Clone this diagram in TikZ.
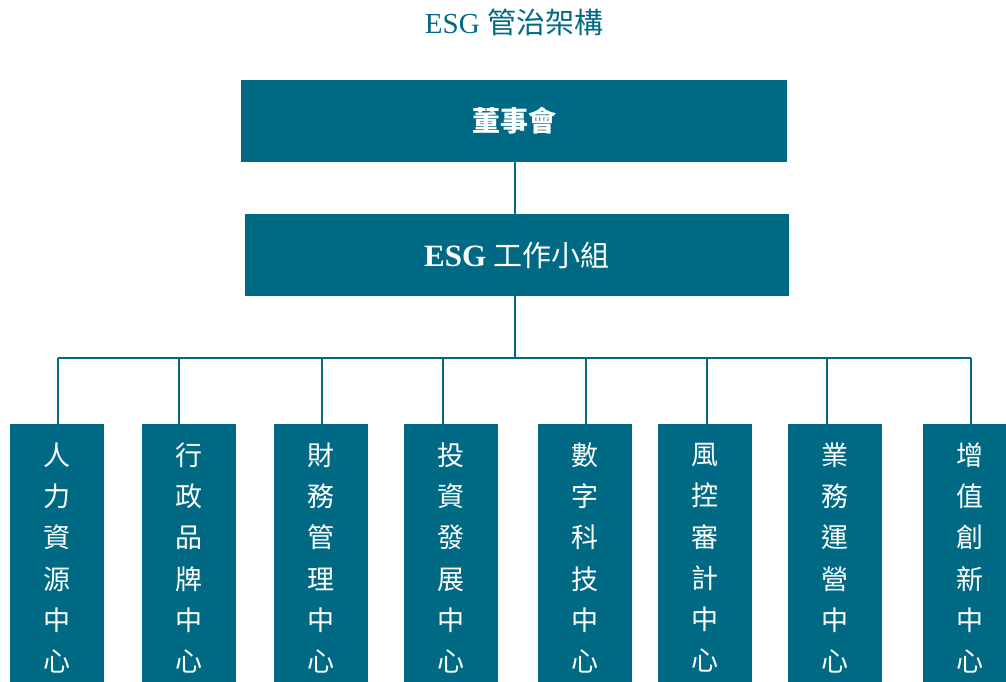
\documentclass[tikz,border=0pt]{standalone}
\usepackage{fontspec}
\setmainfont{Liberation Serif}
\newfontfamily\cjk{Noto Sans CJK TC}
\definecolor{esgteal}{HTML}{006A84}
\begin{document}
\begin{tikzpicture}[x=1pt,y=-1pt,
  wide/.style={fill=esgteal, text=white, inner sep=0pt, minimum width=545pt, minimum height=82pt},
  unit/.style={fill=esgteal, text=white, inner sep=0pt, minimum width=94pt, minimum height=268pt,
    align=center, font=\cjk\fontsize{27}{41.2}\selectfont},
  link/.style={draw=esgteal, line width=2pt}]
\useasboundingbox (0,0) rectangle (1006,682);
\clip (0,0) rectangle (1006,682);
\node[text=esgteal, font=\fontsize{29}{31}\selectfont] (title) at (514,22) {ESG {\cjk 管治架構}};
\node[wide, minimum width=546pt] (board) at (514,121) {\cjk\bfseries\fontsize{28}{30}\selectfont 董事會};
\node[wide, minimum width=544pt] (esg) at (517,255) {\fontsize{31}{33}\selectfont\bfseries ESG {\cjk\mdseries\fontsize{29}{31}\selectfont 工作小組}};
\coordinate (bus) at (515,358);
\node[unit] (b1) at (57,558) {人\\力\\資\\源\\中\\心};
\node[unit] (b2) at (189,558) {行\\政\\品\\牌\\中\\心};
\node[unit] (b3) at (321,558) {財\\務\\管\\理\\中\\心};
\node[unit] (b4) at (451,558) {投\\資\\發\\展\\中\\心};
\node[unit] (b5) at (585,558) {數\\字\\科\\技\\中\\心};
\node[unit] (b6) at (705,558) {風\\控\\審\\計\\中\\心};
\node[unit] (b7) at (835,558) {業\\務\\運\\營\\中\\心};
\node[unit] (b8) at (970,558) {增\\值\\創\\新\\中\\心};
\coordinate (d1) at (58,358);
\coordinate (d2) at (179,358);
\coordinate (d3) at (322,358);
\coordinate (d4) at (443,358);
\coordinate (d5) at (586,358);
\coordinate (d6) at (707,358);
\coordinate (d7) at (827,358);
\coordinate (d8) at (971,358);
\draw[link] (board.south -| bus) -- (esg.north -| bus);
\draw[link] (esg.south -| bus) -- (bus);
\draw[link] (d1) -- (d8);
\foreach \i in {1,...,8} {\draw[link] (d\i) -- (d\i |- b\i.north);}
\end{tikzpicture}
\end{document}
